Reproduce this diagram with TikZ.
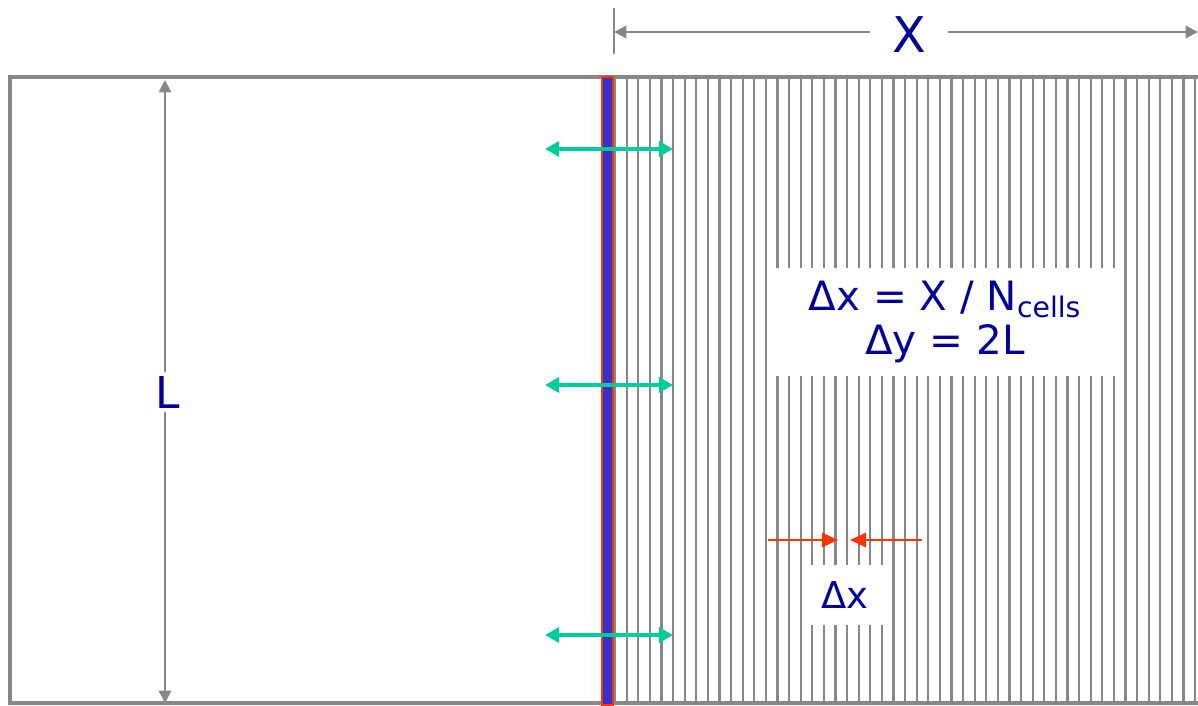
\documentclass[tikz,border=0pt]{standalone}
\usepackage{fontspec}
\setmainfont{DejaVu Sans}
\usetikzlibrary{arrows.meta}
\definecolor{navy}{RGB}{0,0,153}
\definecolor{linegray}{RGB}{135,135,135}
\definecolor{wallblue}{RGB}{51,51,204}
\definecolor{wallred}{RGB}{255,51,0}
\definecolor{fluxgreen}{RGB}{0,204,153}
\tikzset{
  dim/.style={linegray, line width=1.3pt},
  flux/.style={fluxgreen, line width=2.2pt, {Triangle[length=8pt,width=8.5pt]}-{Triangle[length=8pt,width=8.5pt]}},
  gap/.style={wallred, line width=1.4pt, -{Triangle[length=9pt,width=8pt]}},
  lbl/.style={text=navy, fill=white, inner sep=2pt}
}

\begin{document}
\begin{tikzpicture}
\useasboundingbox (0,0) rectangle (23.96,14.1);
% domain and cells
\draw[linegray, line width=1.8pt] (0.2,0.04) rectangle (24.3,12.56);
\foreach \i in {0,...,50}
  \draw[linegray, line width=1.25pt] (12.3+0.232*\i,0.04) -- (12.3+0.232*\i,12.56);
% wall
\draw[draw=wallred, fill=wallblue, line width=1.3pt] (12.04,0) rectangle (12.26,12.56);
% fluxes across the wall
\foreach \n/\y in {a/11.12,b/6.4,c/1.4}{
  \coordinate (fl\n) at (10.9,\y);
  \coordinate (fr\n) at (13.46,\y);
  \draw[flux] (fl\n) -- (fr\n);
}
% L
\coordinate (Ltop) at (3.3,12.5);
\coordinate (Lbot) at (3.3,0.04);
\draw[dim, {Triangle[length=7pt,width=7pt]}-{Triangle[length=7pt,width=7pt]}] (Ltop) -- (Lbot);
\node[lbl, font=\fontsize{25}{25}\selectfont] (Llab) at (3.36,6.26) {L};
% X
\coordinate (Xa) at (12.28,13.94);
\coordinate (Xb) at (12.28,13.02);
\draw[dim] (Xa) -- (Xb);
\coordinate (Xl) at (12.28,13.46);
\coordinate (Xr) at (23.96,13.46);
\draw[dim, {Triangle[length=7pt,width=7pt]}-{Triangle[length=7pt,width=7pt]}] (Xl) -- (Xr);
\node[lbl, font=\fontsize{28}{28}\selectfont, minimum width=1.56cm] (Xlab) at (18.18,13.4) {X};
% cell size
\node[text=navy, fill=white, align=center, minimum width=7.08cm, minimum height=2.16cm,
  font=\fontsize{23}{25}\selectfont] (formula) at (18.9,7.66) {Δx = X / N\textsubscript{cells}\\Δy = 2L};
\coordinate (ra) at (15.36,3.3);
\coordinate (rb) at (16.76,3.3);
\coordinate (rc) at (18.44,3.3);
\coordinate (rd) at (17.0,3.3);
\draw[gap] (ra) -- (rb);
\draw[gap] (rc) -- (rd);
\node[text=navy, fill=white, minimum width=1.6cm, minimum height=1.2cm,
  font=\fontsize{21}{21}\selectfont] (dxlab) at (16.9,2.2) {Δx};
\end{tikzpicture}
\end{document}
